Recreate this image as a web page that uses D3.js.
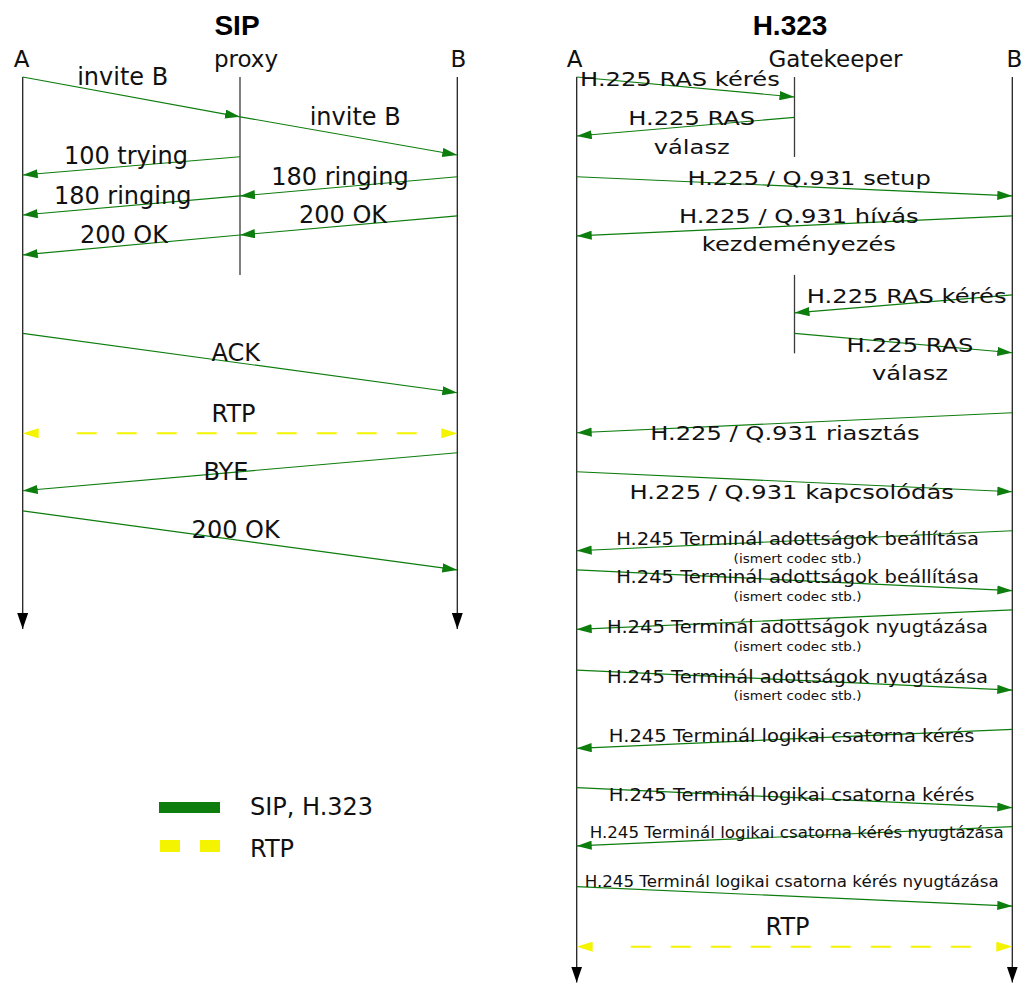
<!DOCTYPE html>
<html>
<head>
<meta charset="utf-8">
<script src="https://cdn.jsdelivr.net/npm/d3@7"></script>
<style>
  html, body { margin: 0; padding: 0; background: #fff; }
  svg { display: block; }
  text { font-family: "DejaVu Sans", sans-serif; fill: #111; }
  .title { font-family: "Liberation Sans", Arial, sans-serif; font-weight: bold; font-size: 28px; fill: #000; }
</style>
</head>
<body>
<svg id="chart" width="1024" height="986"></svg>
<script>
// ---------------- DATA ----------------
const panelTitles = ["SIP", "H.323"];
const sipParticipants = ["A", "proxy", "B"];
const h323Participants = ["A", "Gatekeeper", "B"];

// lifeline segments: participant index, start time, end time, arrow at end
const sipLifelines = [
  { p: 0, t0: 0, t1: 28.16, arrow: true },
  { p: 1, t0: 0, t1: 10.1, arrow: false },
  { p: 2, t0: 0, t1: 28.16, arrow: true }
];
const h323Lifelines = [
  { p: 0, t0: 0, t1: 46.2, arrow: true },
  { p: 1, t0: 0, t1: 4.08, arrow: false },
  { p: 1, t0: 10.1, t1: 14.1, arrow: false },
  { p: 2, t0: 0, t1: 46.2, arrow: true }
];

// messages: from, to (participant index), send / receive time, label lines
const sipMessages = [
  { from: 0, to: 1, t0: 0.0,   t1: 2.03,  lx: 0.46,  lines: [["invite B", 0.41, "sip"]] },
  { from: 1, to: 2, t0: 2.03,  t1: 3.98,  lx: 1.53,  lines: [["invite B", 2.45, "sip"]] },
  { from: 1, to: 0, t0: 4.07,  t1: 5.0,   lx: 0.475, lines: [["100 trying", 4.44, "sip"]] },
  { from: 2, to: 1, t0: 5.09,  t1: 6.07,  lx: 1.46,  lines: [["180 ringing", 5.51, "sip"]] },
  { from: 1, to: 0, t0: 6.07,  t1: 7.04,  lx: 0.46,  lines: [["180 ringing", 6.48, "sip"]] },
  { from: 2, to: 1, t0: 7.09,  t1: 8.06,  lx: 1.474, lines: [["200 OK", 7.45, "sip"]] },
  { from: 1, to: 0, t0: 8.06,  t1: 9.08,  lx: 0.466, lines: [["200 OK", 8.47, "sip"]] },
  { from: 0, to: 2, t0: 13.08, t1: 16.11, lx: 0.98,  lines: [["ACK", 14.49, "sip"]] },
  { from: 2, to: 0, t0: 19.17, t1: 21.11, lx: 0.935, lines: [["BYE", 20.56, "sip"]] },
  { from: 0, to: 2, t0: 22.14, t1: 25.15, lx: 0.98,  lines: [["200 OK", 23.52, "sip"]] }
];
const sipRtp = { from: 0, to: 2, t: 18.18, lx: 0.97, lines: [["RTP", 17.59, "sip"]] };

const h323Messages = [
  { from: 0, to: 1, t0: 0.0,   t1: 1.02,  lx: 0.474, lines: [["H.225 RAS kérés", 0.46, "h225"]] },
  { from: 1, to: 0, t0: 2.06,  t1: 3.01,  lx: 0.528, lines: [["H.225 RAS", 2.45, "h225"], ["válasz", 3.93, "h225"]] },
  { from: 0, to: 2, t0: 5.09,  t1: 6.07,  lx: 1.067, lines: [["H.225 / Q.931 setup", 5.51, "h225"]] },
  { from: 2, to: 0, t0: 7.09,  t1: 8.11,  lx: 1.02,  lines: [["H.225 / Q.931 hívás", 7.43, "h225"], ["kezdeményezés", 8.86, "h225"]] },
  { from: 2, to: 1, t0: 11.12, t1: 12.03, lx: 1.515, lines: [["H.225 RAS kérés", 11.52, "h225"]] },
  { from: 1, to: 2, t0: 13.08, t1: 14.07, lx: 1.53,  lines: [["H.225 RAS", 14.01, "h225"], ["válasz", 15.46, "h225"]] },
  { from: 2, to: 0, t0: 17.13, t1: 18.15, lx: 0.956, lines: [["H.225 / Q.931 riasztás", 18.52, "h225"]] },
  { from: 0, to: 2, t0: 20.14, t1: 21.16, lx: 0.987, lines: [["H.225 / Q.931 kapcsolódás", 21.55, "h225"]] },
  { from: 2, to: 0, t0: 23.15, t1: 24.17, lx: 1.014, lines: [["H.245 Terminál adottságok beállítása", 23.88, "h245"], ["(ismert codec stb.)", 24.78, "sub"]] },
  { from: 0, to: 2, t0: 25.15, t1: 26.21, lx: 1.014, lines: [["H.245 Terminál adottságok beállítása", 25.83, "h245"], ["(ismert codec stb.)", 26.73, "sub"]] },
  { from: 2, to: 0, t0: 27.19, t1: 28.18, lx: 1.014, lines: [["H.245 Terminál adottságok nyugtázása", 28.38, "h245"], ["(ismert codec stb.)", 29.29, "sub"]] },
  { from: 0, to: 2, t0: 30.26, t1: 31.28, lx: 1.014, lines: [["H.245 Terminál adottságok nyugtázása", 30.9, "h245"], ["(ismert codec stb.)", 31.79, "sub"]] },
  { from: 2, to: 0, t0: 33.28, t1: 34.25, lx: 0.987, lines: [["H.245 Terminál logikai csatorna kérés", 33.91, "h245"]] },
  { from: 0, to: 2, t0: 36.26, t1: 37.28, lx: 0.987, lines: [["H.245 Terminál logikai csatorna kérés", 36.92, "h245"]] },
  { from: 2, to: 0, t0: 38.25, t1: 39.23, lx: 1.01,  lines: [["H.245 Terminál logikai csatorna kérés nyugtázása", 38.84, "h245s"]] },
  { from: 0, to: 2, t0: 41.31, t1: 42.3,  lx: 0.987, lines: [["H.245 Terminál logikai csatorna kérés nyugtázása", 41.31, "h245s"]] }
];
const h323Rtp = { from: 0, to: 2, t: 44.37, lx: 0.968, lines: [["RTP", 43.78, "sip"]] };

const legendLabels = ["SIP, H.323", "RTP"];

// ---------------- STYLES ----------------
const GREEN = "#0d7d0d";
const YELLOW = "#f4f400";
const LIFE = "#3a3a3a";
const textStyles = {
  sip:   { size: 24,   sx: 1.0 },
  h225:  { size: 20,   sx: 1.21 },
  h245:  { size: 17,   sx: 1.15 },
  h245s: { size: 16.7, sx: 1.0 },
  sub:   { size: 12,   sx: 1.13 }
};

// ---------------- DRAW ----------------
const svg = d3.select("#chart");
const y = d3.scaleLinear().domain([0, 50]).range([77, 77 + 50 * 19.6]);

const defs = svg.append("defs");
function marker(id, color, len, half) {
  defs.append("marker")
    .attr("id", id).attr("markerUnits", "userSpaceOnUse")
    .attr("viewBox", `0 ${-half} ${len} ${2 * half}`)
    .attr("refX", len).attr("refY", 0)
    .attr("markerWidth", len).attr("markerHeight", 2 * half)
    .attr("orient", "auto-start-reverse")
    .append("path").attr("d", `M0,${-half}L${len},0L0,${half}Z`).attr("fill", color);
}
marker("arrGreen", GREEN, 15, 4.6);
marker("arrBlack", "#000", 16, 5.5);
marker("arrYellow", YELLOW, 16, 5);

function drawText(g, str, x, yy, cls) {
  const st = textStyles[cls];
  g.append("text")
    .attr("transform", `translate(${x},${yy}) scale(${st.sx},1)`)
    .attr("text-anchor", "middle")
    .style("font-size", st.size + "px")
    .text(str);
}

function drawPanel(cfg) {
  const g = svg.append("g");
  const x = d3.scaleLinear().domain([0, 2]).range(cfg.xr);

  g.append("text").attr("class", "title")
    .attr("x", cfg.titleX).attr("y", 35).attr("text-anchor", "middle").text(cfg.title);

  // participant headers
  g.selectAll("text.hdr").data(cfg.participants).join("text")
    .attr("class", "hdr")
    .attr("x", (d, i) => x(i) + cfg.hdrDx[i])
    .attr("y", 66.5)
    .attr("text-anchor", "middle")
    .style("font-size", "23px")
    .text(d => d);

  // lifelines
  g.selectAll("line.life").data(cfg.lifelines).join("line")
    .attr("class", "life")
    .attr("x1", d => x(d.p)).attr("x2", d => x(d.p))
    .attr("y1", d => y(d.t0)).attr("y2", d => y(d.t1))
    .attr("stroke", d => d.arrow ? "#222" : LIFE)
    .attr("stroke-width", 1.3)
    .attr("marker-end", d => d.arrow ? "url(#arrBlack)" : null);

  // messages
  const mg = g.selectAll("g.msg").data(cfg.messages).join("g").attr("class", "msg");
  mg.append("line")
    .attr("x1", d => x(d.from)).attr("y1", d => y(d.t0))
    .attr("x2", d => x(d.to)).attr("y2", d => y(d.t1))
    .attr("stroke", GREEN).attr("stroke-width", 1.2)
    .attr("marker-end", "url(#arrGreen)");
  mg.each(function (d) {
    const gg = d3.select(this);
    d.lines.forEach(([s, t, cls]) => drawText(gg, s, x(d.lx), y(t), cls));
  });

  // RTP
  const r = cfg.rtp;
  const rx0 = x(r.from), rx1 = x(r.to), ry = y(r.t);
  g.append("line")
    .attr("x1", rx0 + 54).attr("x2", rx1 - 39).attr("y1", ry).attr("y2", ry)
    .attr("stroke", YELLOW).attr("stroke-width", 2).attr("stroke-dasharray", "20,20");
  g.append("line")
    .attr("x1", rx0).attr("x2", rx0 + 16).attr("y1", ry).attr("y2", ry)
    .attr("stroke", "none").attr("marker-start", "url(#arrYellow)");
  g.append("line")
    .attr("x1", rx1 - 16).attr("x2", rx1).attr("y1", ry).attr("y2", ry)
    .attr("stroke", "none").attr("marker-end", "url(#arrYellow)");
  r.lines.forEach(([s, t, cls]) => drawText(g, s, x(r.lx), y(t), cls));
}

drawPanel({
  title: panelTitles[0], titleX: 237, xr: [22.7, 457.3], hdrDx: [-1, 6, 1],
  participants: sipParticipants, lifelines: sipLifelines, messages: sipMessages, rtp: sipRtp
});
drawPanel({
  title: panelTitles[1], titleX: 790, xr: [576.7, 1012.3], hdrDx: [-2, 41, 2],
  participants: h323Participants, lifelines: h323Lifelines, messages: h323Messages, rtp: h323Rtp
});

// legend
const lg = svg.append("g");
lg.append("rect").attr("x", 159).attr("y", 802).attr("width", 61).attr("height", 11).attr("fill", GREEN);
lg.append("rect").attr("x", 160).attr("y", 840).attr("width", 20).attr("height", 12).attr("fill", YELLOW);
lg.append("rect").attr("x", 200).attr("y", 840).attr("width", 20).attr("height", 12).attr("fill", YELLOW);
lg.selectAll("text.leg").data(legendLabels).join("text")
  .attr("class", "leg")
  .attr("x", 250).attr("y", (d, i) => 815 + i * 41.5)
  .style("font-size", "24px").text(d => d);
</script>
</body>
</html>
